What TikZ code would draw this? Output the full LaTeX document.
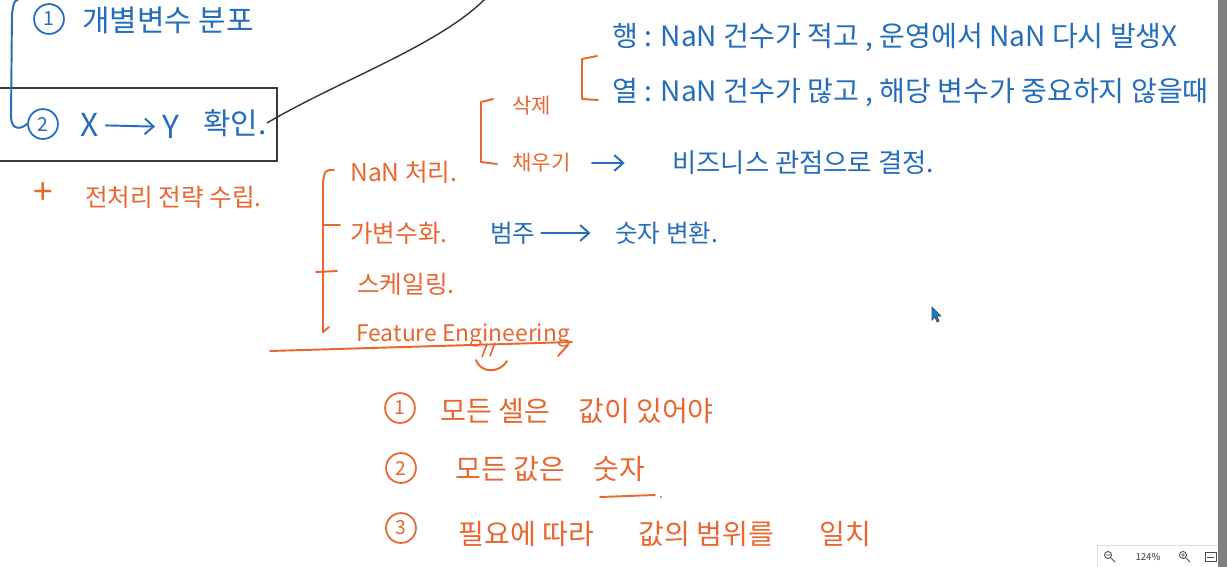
\documentclass[tikz,border=0pt]{standalone}
\usepackage{fontspec}
\setmainfont{Noto Sans CJK KR}
\usetikzlibrary{arrows.meta}
\definecolor{penblue}{RGB}{36,108,188}
\definecolor{penorange}{RGB}{234,102,48}
\definecolor{boxgray}{RGB}{58,58,58}

\begin{document}
\begin{tikzpicture}[
        x=0.02cm,
        y=-0.02cm,
        >={Straight Barb[length=5pt,width=9pt]},
        every node/.style={font=\fontsize{15}{18}\selectfont, inner sep=0pt},
        bluepen/.style={penblue, line width=1.1pt, line cap=round, line join=round},
        orgpen/.style={penorange, line width=1.1pt, line cap=round, line join=round},
        bluetxt/.style={text=penblue, anchor=west},
        orgtxt/.style={text=penorange, anchor=west},
        circnum/.style={circle, draw, line width=1pt, minimum size=17pt, font=\fontsize{11}{12}\selectfont}
      ]

      % --- 1. 화면 영역 ---
      \useasboundingbox (0, 0) rectangle (1227, 566);
      \clip (0, 0) rectangle (1227, 566);
      \fill[white] (0, 0) rectangle (1227, 566);

      % --- 2. 위쪽 파란 메모 ---
      \node[circnum, penblue] (one) at (49, 19) {1};
      \node[bluetxt, font=\fontsize{17}{20}\selectfont] (dist) at (82, 20) {개별변수 분포};

      \draw[boxgray, line width=1pt] (-5, 88) rectangle (277, 161);
      \node[circnum, penblue] (two) at (43, 124) {2};
      \node[bluetxt, font=\fontsize{18}{20}\selectfont] (xvar) at (80, 125) {X};
      \node[bluetxt, font=\fontsize{18}{20}\selectfont] (yvar) at (162, 127) {Y};
      \node[bluetxt, font=\fontsize{17}{20}\selectfont] (check) at (203, 123) {확인.};
      \draw[bluepen, ->, shorten <=4pt, shorten >=4pt] (xvar) -- (yvar);

      % ① 과 ② 를 잇는 선
      \draw[bluepen] (24, -2) .. controls (14, 0) .. (12, 14) -- (11, 116)
      .. controls (11, 130) and (20, 130) .. (two.west);

      % 확인 -> 위로 이어지는 검은 선
      \coordinate (linkend) at (486, -2);
      \draw[black!80, line width=0.8pt] (check.east) .. controls (340, 80) and (440, 45) .. (linkend);

      % --- 3. 전처리 전략 ---
      \node[orgtxt, font=\fontsize{20}{20}\selectfont] (plus) at (33, 194) {+};
      \node[orgtxt, font=\fontsize{14}{18}\selectfont] (prep) at (85, 197) {전처리 전략 수립.};

      % (i) 왼쪽 가지
      \node[orgtxt, font=\fontsize{14}{18}\selectfont] (nan) at (350, 172) {NaN 처리.};
      \node[orgtxt, font=\fontsize{14}{18}\selectfont] (dummy) at (350, 233) {가변수화.};
      \node[orgtxt, font=\fontsize{14}{18}\selectfont] (scaling) at (357, 284) {스케일링.};
      \node[orgtxt, font=\fontsize{13}{14}\selectfont] (feat) at (356, 335) {Feature Engineering};
      \draw[orgpen] (334, 170) .. controls (325, 170) .. (323, 182) -- (323, 332) -- (329, 327);
      \draw[orgpen] (323, 225) -- (340, 225);
      \draw[orgpen] (316, 272) -- (337, 271);

      % 밑줄과 아래 표시
      \draw[orgpen] (270, 351) -- (572, 342);
      \draw[orgpen] (568, 345) -- (558, 356);
      \draw[orgpen, line width=0.9pt] (487, 344) -- (482, 357) (495, 343) -- (490, 356);
      \draw[orgpen] (476, 360) .. controls (481, 374) and (500, 373) .. (507, 361);

      % (ii) NaN 처리 : 삭제 / 채우기
      \node[orgtxt, font=\fontsize{12}{14}\selectfont] (drop) at (512, 106) {삭제};
      \node[orgtxt, font=\fontsize{12}{14}\selectfont] (fillna) at (512, 163) {채우기};
      \draw[orgpen] (493, 99) -- (481, 102) -- (481, 162) -- (497, 164);
      \node[bluetxt] (biz) at (672, 163) {비즈니스 관점으로 결정.};
      \draw[bluepen, ->, shorten <=12pt, shorten >=27pt] (fillna) -- (biz);

      % (iii) 삭제 : 행 / 열
      \draw[orgpen] (597, 56) -- (582, 59) -- (582, 99) -- (598, 100);
      \node[bluetxt, font=\fontsize{16}{18}\selectfont] (row) at (612, 38) {행 : NaN 건수가 적고 ,\ 운영에서\ NaN 다시 발생X};
      \node[bluetxt, font=\fontsize{16}{18}\selectfont] (col) at (612, 93) {열 : NaN 건수가 많고 , 해당 변수가 중요하지 않을때};

      % (iv) 가변수화 : 범주 -> 숫자
      \node[bluetxt, font=\fontsize{14}{18}\selectfont] (cat) at (490, 233) {범주};
      \node[bluetxt, font=\fontsize{14}{18}\selectfont] (numconv) at (615, 233) {숫자 변환.};
      \draw[bluepen, ->, shorten <=3pt, shorten >=14pt] (cat) -- (numconv);

      % --- 4. 아래 조건 목록 ---
      \node[circnum, penorange] (s1) at (400, 408) {1};
      \node[orgtxt, font=\fontsize{16}{18}\selectfont] (s1txt) at (440, 411) {모든 셀은\quad 값이 있어야};
      \node[circnum, penorange] (s2) at (401, 468) {2};
      \node[orgtxt, font=\fontsize{16}{18}\selectfont] (s2txt) at (455, 469) {모든 값은\quad 숫자};
      \node[circnum, penorange] (s3) at (401, 528) {3};
      \node[orgtxt, font=\fontsize{16}{18}\selectfont] (s3txt) at (458, 534) {필요에 따라\hspace{1.6em}값의 범위를\hspace{1.6em}일치};
      \draw[orgpen] (600, 497) -- (655, 495);
      \fill[penorange] (661, 497) circle (0.6pt);

      % --- 5. 화면 요소 (커서, 확대 막대, 스크롤바) ---
      \filldraw[fill=cyan!60!blue, draw=black!70, line width=0.4pt]
      (932, 307) -- (932, 320) -- (935, 317) -- (937, 322) -- (939, 321) -- (937, 316) -- (941, 316) -- cycle;

      \draw[gray!25, fill=white] (1097, 545) rectangle (1230, 570);
      \node[font=\fontsize{5.5}{6}\selectfont, text=black!75] (zoompct) at (1148, 557) {124\%};
      \draw[black!70, line width=0.5pt] (1108, 555) circle (2pt) (1111, 558) -- (1115, 562) (1106, 555) -- (1110, 555);
      \draw[black!70, line width=0.5pt] (1183, 555) circle (2pt) (1186, 558) -- (1190, 562)
      (1181, 555) -- (1185, 555) (1183, 553) -- (1183, 557);
      \draw[black!70, line width=0.5pt] (1205, 552) rectangle (1216, 561) (1207, 557) -- (1214, 557);

      \fill[black!50] (1218, -5) rectangle (1232, 575);

    \end{tikzpicture}
\end{document}
